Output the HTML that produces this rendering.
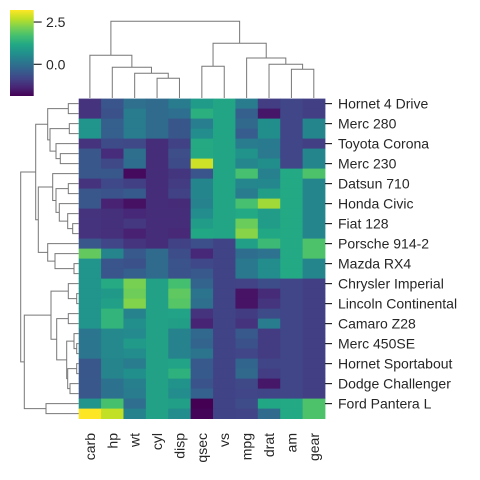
<!DOCTYPE html>
<html><head><meta charset="utf-8">
<style>
html,body{margin:0;padding:0;background:#fff;width:480px;height:480px;overflow:hidden}
svg{display:block;font-family:"Liberation Sans",Arial,sans-serif}
</style></head>
<body>
<svg id="chart" width="480" height="480" viewBox="0 0 480 480" xmlns="http://www.w3.org/2000/svg"></svg>
<script>
// rows in clustered order (mtcars): mpg,cyl,disp,hp,drat,wt,qsec,vs,am,gear,carb
const rowNames = ["Hornet 4 Drive","Valiant","Merc 280","Merc 280C","Toyota Corona","Merc 240D","Merc 230","Lotus Europa","Datsun 710","Volvo 142E","Honda Civic","Fiat X1-9","Fiat 128","Toyota Corolla","Porsche 914-2","Ferrari Dino","Mazda RX4","Mazda RX4 Wag","Chrysler Imperial","Cadillac Fleetwood","Lincoln Continental","Duster 360","Camaro Z28","Merc 450SL","Merc 450SE","Merc 450SLC","Hornet Sportabout","Pontiac Firebird","Dodge Challenger","AMC Javelin","Ford Pantera L","Maserati Bora"];
const rawVars = ["mpg","cyl","disp","hp","drat","wt","qsec","vs","am","gear","carb"];
const rawData = [
[21.4,6,258,110,3.08,3.215,19.44,1,0,3,1],
[18.1,6,225,105,2.76,3.46,20.22,1,0,3,1],
[19.2,6,167.6,123,3.92,3.44,18.3,1,0,4,4],
[17.8,6,167.6,123,3.92,3.44,18.9,1,0,4,4],
[21.5,4,120.1,97,3.7,2.465,20.01,1,0,3,1],
[24.4,4,146.7,62,3.69,3.19,20,1,0,4,2],
[22.8,4,140.8,95,3.92,3.15,22.9,1,0,4,2],
[30.4,4,95.1,113,3.77,1.513,16.9,1,1,5,2],
[22.8,4,108,93,3.85,2.32,18.61,1,1,4,1],
[21.4,4,121,109,4.11,2.78,18.6,1,1,4,2],
[30.4,4,75.7,52,4.93,1.615,18.52,1,1,4,2],
[27.3,4,79,66,4.08,1.935,18.9,1,1,4,1],
[32.4,4,78.7,66,4.08,2.2,19.47,1,1,4,1],
[33.9,4,71.1,65,4.22,1.835,19.9,1,1,4,1],
[26,4,120.3,91,4.43,2.14,16.7,0,1,5,2],
[19.7,6,145,175,3.62,2.77,15.5,0,1,5,6],
[21,6,160,110,3.9,2.62,16.46,0,1,4,4],
[21,6,160,110,3.9,2.875,17.02,0,1,4,4],
[14.7,8,440,230,3.23,5.345,17.42,0,0,3,4],
[10.4,8,472,205,2.93,5.25,17.98,0,0,3,4],
[10.4,8,460,215,3,5.424,17.82,0,0,3,4],
[14.3,8,360,245,3.21,3.57,15.84,0,0,3,4],
[13.3,8,350,245,3.73,3.84,15.41,0,0,3,4],
[17.3,8,275.8,180,3.07,3.73,17.6,0,0,3,3],
[16.4,8,275.8,180,3.07,4.07,17.4,0,0,3,3],
[15.2,8,275.8,180,3.07,3.78,18,0,0,3,3],
[18.7,8,360,175,3.15,3.44,17.02,0,0,3,2],
[19.2,8,400,175,3.08,3.845,17.05,0,0,3,2],
[15.5,8,318,150,2.76,3.52,16.87,0,0,3,2],
[15.2,8,304,150,3.15,3.435,17.3,0,0,3,2],
[15.8,8,351,264,4.22,3.17,14.5,0,1,5,4],
[15,8,301,335,3.54,3.57,14.6,0,1,5,8]
];
const colNames = ["carb","hp","wt","cyl","disp","qsec","vs","mpg","drat","am","gear"];
const cbTicks = [0.0, 2.5];
// dendrogram linkage (distance heights)
const colTree = {h:76.7,c:[{h:42.7,c:[0,{h:30.7,c:[1,{h:24.7,c:[2,{h:19.7,c:[3,4]}]}]}]},{h:54.7,c:[{h:31.7,c:[5,6]},{h:40,c:[7,{h:33.7,c:[8,{h:28.7,c:[9,10]}]}]}]}]};
const rowTree = {h:58,c:[
 {h:43,c:[
   {h:31,c:[{h:10.4,c:[0,1]},{h:28.7,c:[{h:9.4,c:[2,3]},{h:22.7,c:[4,{h:18.4,c:[5,6]}]}]}]},
   {h:40.4,c:[
     {h:26,c:[7,{h:22.7,c:[{h:10.4,c:[8,9]},{h:19.4,c:[10,{h:11,c:[11,{h:6,c:[12,13]}]}]}]}]},
     {h:31,c:[14,{h:23.7,c:[15,{h:4.7,c:[16,17]}]}]}
   ]}
 ]},
 {h:54.4,c:[
   {h:27.7,c:[
     {h:10.4,c:[18,{h:2,c:[19,20]}]},
     {h:22,c:[{h:10.4,c:[21,22]},{h:12,c:[{h:4.7,c:[23,{h:2,c:[24,25]}]},{h:11,c:[{h:2,c:[26,27]},{h:8.7,c:[28,29]}]}]}]}
   ]},
   {h:32.7,c:[30,31]}
 ]}
]};

const NS="http://www.w3.org/2000/svg";
const svg=document.getElementById('chart');
function mk(tag,attrs,parent){const e=document.createElementNS(NS,tag);for(const k in attrs)e.setAttribute(k,attrs[k]);(parent||svg).appendChild(e);return e;}

// z-score columns
const nR=rawData.length, nV=rawVars.length;
const means=[],sds=[];
for(let j=0;j<nV;j++){let s=0;for(let i=0;i<nR;i++)s+=rawData[i][j];const m=s/nR;let v=0;for(let i=0;i<nR;i++)v+=(rawData[i][j]-m)**2;means.push(m);sds.push(Math.sqrt(v/(nR-1)));}
const Z=rawData.map(r=>colNames.map(c=>{const j=rawVars.indexOf(c);return (r[j]-means[j])/sds[j];}));
let vmin=Infinity,vmax=-Infinity;Z.forEach(r=>r.forEach(v=>{vmin=Math.min(vmin,v);vmax=Math.max(vmax,v);}));

const vir=["#440154","#482475","#414487","#355f8d","#2a788e","#21918c","#22a884","#44bf70","#7ad151","#bddf26","#fde725"];
function hx(h){return [1,3,5].map(i=>parseInt(h.substr(i,2),16));}
function color(v){let t=(v-vmin)/(vmax-vmin);t=Math.max(0,Math.min(1,t));const p=t*10,i=Math.min(9,Math.floor(p)),f=p-i;const a=hx(vir[i]),b=hx(vir[i+1]);return `rgb(${a.map((x,k)=>Math.round(x+(b[k]-x)*f)).join(',')})`;}

// layout
const X0=78.7,X1=325,Y0=98.6,Y1=418.6;
const cw=(X1-X0)/colNames.length, rh=(Y1-Y0)/nR;
const xC=j=>X0+cw*(j+0.5), yC=i=>Y0+rh*(i+0.5);

const gH=mk('g',{});
Z.forEach((r,i)=>r.forEach((v,j)=>{
 const e=mk('rect',{x:X0+cw*j,y:Y0+rh*i,width:cw+0.4,height:rh+0.4,fill:color(v)},gH);
 
 
}));

// row labels
const gR=mk('g',{});
rowNames.forEach((n,i)=>{ if(i%2) return;
 const t=mk('line',{x1:X1,x2:X1+7,y1:yC(i),y2:yC(i),stroke:'#262626','stroke-width':1.2},gR);
 
 
 const e=mk('text',{x:X1+13,y:yC(i)+5,'font-size':14,fill:'#262626'},gR);
 
 
 e.textContent=n;
});
// column labels
const gC=mk('g',{});
colNames.forEach((n,j)=>{
 const e=mk('text',{x:0,y:0,'font-size':14,fill:'#262626','text-anchor':'end',transform:`translate(${xC(j)+5},433) rotate(-90)`},gC);
 
 
 e.textContent=n;
});

// dendrograms
function drawTree(node,posFn,hFn,vertical,g){
 function rec(n){
  if(typeof n==='number') return {p:posFn(n),h:hFn(0)};
  const a=rec(n.c[0]),b=rec(n.c[1]),h=hFn(n.h);
  const pts=vertical?`${a.p},${a.h} ${a.p},${h} ${b.p},${h} ${b.p},${b.h}`:`${a.h},${a.p} ${h},${a.p} ${h},${b.p} ${b.h},${b.p}`;
  const e=mk('polyline',{points:pts,fill:'none',stroke:'#777','stroke-width':1},g);
  
  
  return {p:(a.p+b.p)/2,h:h};
 }
 rec(node);
}
const gCT=mk('g',{});
const cs=(Y0-0.6-21.3)/colTree.h;
drawTree(colTree,xC,d=>Y0-0.6-d*cs,true,gCT);
const gRT=mk('g',{});
const rs=(X0-20.7)/rowTree.h;
drawTree(rowTree,yC,d=>X0-d*rs,false,gRT);

// colorbar
const gB=mk('g',{});
const defs=mk('defs',{});
const lg=mk('linearGradient',{id:'vg',x1:0,y1:1,x2:0,y2:0},defs);
vir.forEach((c,k)=>mk('stop',{offset:(k/10),'stop-color':c},lg));
const CB0=10,CB1=96;
mk('rect',{x:10,y:CB0,width:23.7,height:CB1-CB0,fill:'url(#vg)',},gB);
const cbY=v=>CB1-(v-vmin)/(vmax-vmin)*(CB1-CB0);
cbTicks.forEach(v=>{
 const l=mk('line',{x1:33.7,x2:41.7,y1:cbY(v),y2:cbY(v),stroke:'#262626','stroke-width':1.2},gB);
 
 
 const t=mk('text',{x:46,y:cbY(v)+5,'font-size':14,fill:'#262626'},gB);
 
 
 t.textContent=v.toFixed(1);
});
</script>
</body></html>
